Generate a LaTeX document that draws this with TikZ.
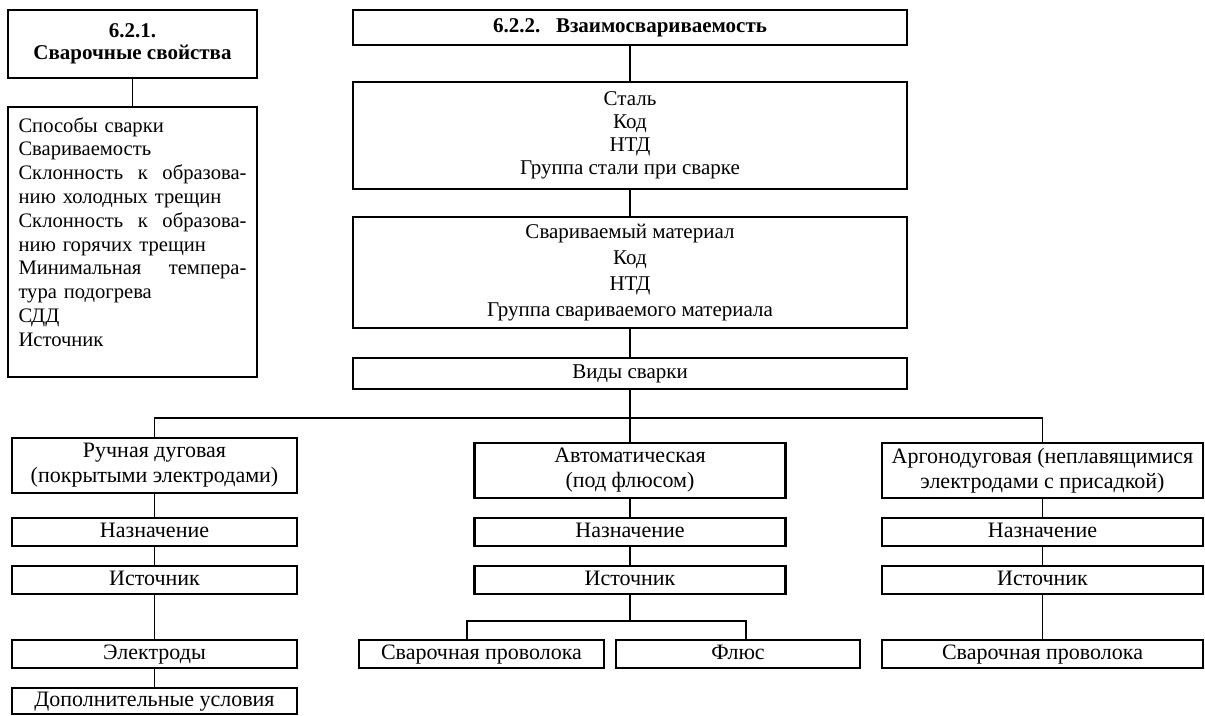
\documentclass[tikz,border=0pt]{standalone}
\usepackage{fontspec}
\setmainfont{Liberation Serif}
\usetikzlibrary{positioning}

\begin{document}
\begin{tikzpicture}[
    box/.style={draw, rectangle, line width=1.1pt, inner sep=0pt, outer sep=0pt, align=center,
                font=\fontsize{10.5}{12.5}\selectfont},
    head/.style={box, font=\bfseries\fontsize{10.5}{11}\selectfont},
    kindbox/.style={box, font=\fontsize{11}{12.5}\selectfont},
    leftcol/.style={kindbox, minimum width=142.5pt},
    midcol/.style={kindbox, minimum width=155.5pt},
    rightcol/.style={kindbox, minimum width=160.5pt},
    row/.style={minimum height=14pt, text height=7.6pt, text depth=2.3pt},
    tall/.style={minimum height=27.5pt},
    link/.style={line width=0.8pt}
  ]
            \useasboundingbox (0,0) rectangle (602.5pt,-358pt);

            % welding properties
            \node (prop) [head, minimum width=124.5pt, minimum height=34pt, anchor=north] at (66.25pt,-5pt) {6.2.1.\\Сварочные свойства};
            \node (proplist) [box, align=left, text width=114pt, inner xsep=5.25pt, minimum height=135pt,
                              font=\fontsize{10.3}{11.9}\selectfont, below=14.5pt of prop] {%
                Способы сварки\\
                Свариваемость\\
                Склонность\hfill к\hfill образова-\\
                нию холодных трещин\\
                Склонность\hfill к\hfill образова-\\
                нию горячих трещин\\
                Минимальная\hfill темпера-\\
                тура подогрева\\
                СДД\\
                Источник\par\vspace{10pt}\hrule height 0pt};

            % mutual weldability
            \node (mutual) [head, minimum width=277pt, minimum height=17.5pt, anchor=north] at (315pt,-5pt) {6.2.2.\ \ \ Взаимосвариваемость};
            \node (steel) [box, minimum width=277pt, minimum height=53.5pt, font=\fontsize{10.5}{11.5}\selectfont, below=18.5pt of mutual] {Сталь\\Код\\НТД\\Группа стали при сварке};
            \node (material) [box, minimum width=277pt, minimum height=55.5pt, font=\fontsize{10.5}{13}\selectfont, below=14pt of steel] {Свариваемый материал\\Код\\НТД\\Группа свариваемого материала};
            \node (kinds) [box, row, minimum width=277pt, minimum height=15.5pt, below=15pt of material] {Виды сварки};

            % kinds of welding
            \node (manual) [leftcol, tall, anchor=north] at (77.25pt,-219pt) {Ручная дуговая\\(покрытыми электродами)};
            \node (auto) [midcol, tall, below=27pt of kinds] {Автоматическая\\(под флюсом)};
            \node (argon) [rightcol, tall, anchor=north] at (521.25pt,-221.5pt) {Аргонодуговая (неплавящимися\\электродами с присадкой)};

            \node (purp1) [leftcol, row, below=12.5pt of manual] {Назначение};
            \node (src1) [leftcol, row, below=10pt of purp1] {Источник};
            \node (electr) [leftcol, row, below=23pt of src1] {Электроды};
            \node (extra) [leftcol, row, minimum height=13pt, below=10pt of electr] {Дополнительные условия};

            \node (purp2) [midcol, row, below=10pt of auto] {Назначение};
            \node (src2) [midcol, row, below=10pt of purp2] {Источник};
            \node (wire2) [kindbox, row, minimum width=122.5pt, below=23pt of src2, xshift=-74.25pt] {Сварочная проволока};
            \node (flux) [kindbox, row, minimum width=122pt, right=6pt of wire2] {Флюс};

            \node (purp3) [rightcol, row, below=10pt of argon] {Назначение};
            \node (src3) [rightcol, row, below=10pt of purp3] {Источник};
            \node (wire3) [rightcol, row, below=23pt of src3] {Сварочная проволока};

            \coordinate (bus) at ([yshift=-14.5pt]kinds.south);
            \coordinate (fork) at ([yshift=-13.5pt]src2.south);

            \draw[link] (prop) -- (proplist);
            \draw[link] (mutual) -- (steel);
            \draw[link] (steel) -- (material);
            \draw[link] (material) -- (kinds);
            \draw[link] (kinds) -- (auto);
            \draw[link] (manual.north) |- (bus) -| (argon.north);

            \draw[link] (manual) -- (purp1);
            \draw[link] (purp1) -- (src1);
            \draw[link] (src1) -- (electr);
            \draw[link] (electr) -- (extra);

            \draw[link] (auto) -- (purp2);
            \draw[link] (purp2) -- (src2);
            \draw[link] (src2) -- (fork);
            \draw[link] ([xshift=-7.25pt]wire2.north) |- (fork) -| ([xshift=4pt]flux.north);

            \draw[link] (argon) -- (purp3);
            \draw[link] (purp3) -- (src3);
            \draw[link] (src3) -- (wire3);
        \end{tikzpicture}
\end{document}
